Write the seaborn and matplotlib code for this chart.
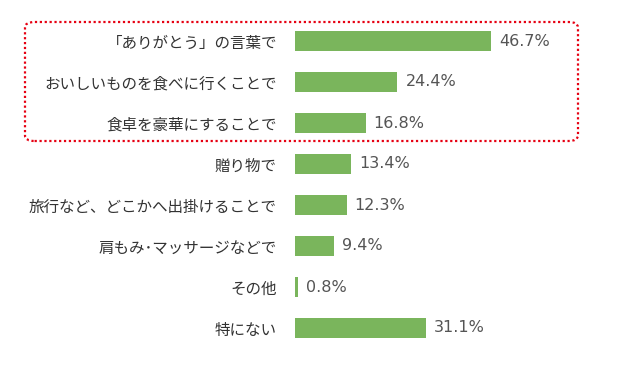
import matplotlib
matplotlib.use("Agg")
import matplotlib.pyplot as plt
import seaborn as sns
import pandas as pd
from matplotlib.patches import FancyBboxPatch

categories = ["「ありがとう」の言葉で", "おいしいものを食べに行くことで", "食卓を豪華にすることで",
              "贈り物で", "旅行など、どこかへ出掛けることで", "肩もみ･マッサージなどで",
              "その他", "特にない"]
values = [46.7, 24.4, 16.8, 13.4, 12.3, 9.4, 0.8, 31.1]
value_labels = ["46.7%", "24.4%", "16.8%", "13.4%", "12.3%", "9.4%", "0.8%", "31.1%"]

sns.set_theme(style="white")
plt.rcParams['font.family'] = ['Noto Sans CJK JP', 'DejaVu Sans']

df = pd.DataFrame({"cat": categories, "val": values})

fig = plt.figure(figsize=(6.4, 3.72), dpi=100)
ax = fig.add_axes([295/640, (372-348.5)/372, 252/640, 328/372])
sns.barplot(data=df, y="cat", x="val", orient="h", color="#7ab55c", saturation=1,
            width=0.51, linewidth=0, ax=ax)
ax.set_xlim(0, 60)
ax.set_ylim(7.5, -0.5)
for s in ax.spines.values():
    s.set_visible(False)
ax.set_xticks([])
ax.set_xlabel("")
ax.set_ylabel("")
ax.tick_params(axis="y", length=0, pad=13, labelsize=11.2, labelcolor="#333333")

for i, (v, lab) in enumerate(zip(values, value_labels)):
    ax.text(v + 1.9, i, lab, va="center", ha="left", fontsize=11.5, color="#555555",
            family=['DejaVu Sans'])

box = FancyBboxPatch((25/640, (372-141)/372), (578-25)/640, (141-22)/372,
                     boxstyle="round,pad=0,rounding_size=0.015",
                     transform=fig.transFigure, fill=False, edgecolor="#e60012",
                     linewidth=1.6, linestyle=(0, (1, 1.2)))
fig.patches.append(box)

fig.savefig("out.png", dpi=100)
